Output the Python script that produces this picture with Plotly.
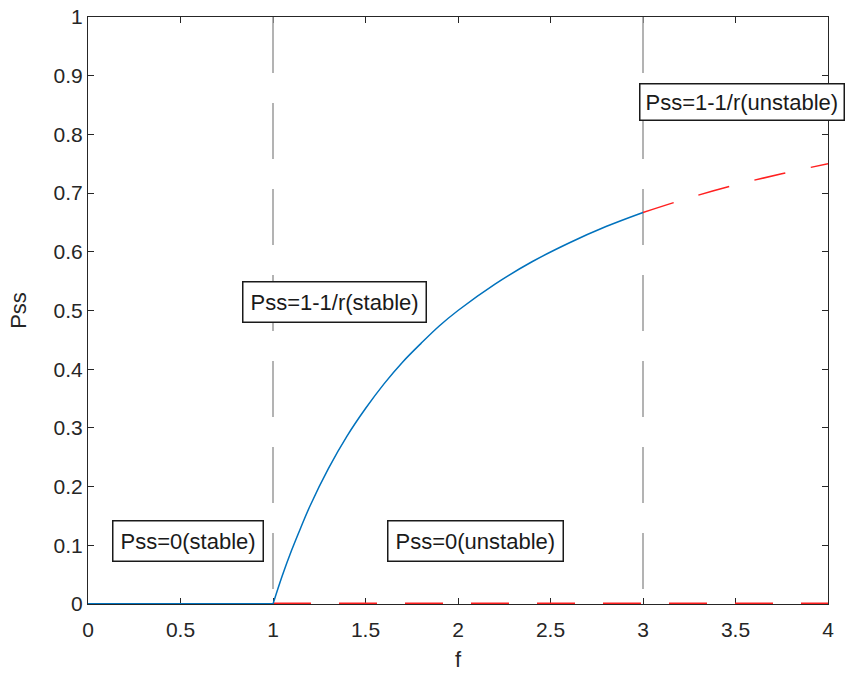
import plotly.graph_objects as go

# Data
zero_stable_f = [0, 1]
zero_stable_p = [0, 0]
zero_unstable_f = [1, 4]
zero_unstable_p = [0, 0]
stable_f = [1.0, 1.05, 1.1, 1.15, 1.2, 1.3, 1.4, 1.5, 1.6, 1.7, 1.8, 1.9, 2.0, 2.2, 2.4, 2.6, 2.8, 3.0]
stable_p = [0.0, 0.048, 0.091, 0.130, 0.167, 0.231, 0.286, 0.333, 0.375, 0.412, 0.444, 0.474, 0.500, 0.545, 0.583, 0.615, 0.643, 0.667]
unstable_f = [3.0, 3.25, 3.5, 3.75, 4.0]
unstable_p = [0.667, 0.692, 0.714, 0.733, 0.750]
boundary_f = [1, 3]
boundary_p = [1, 0]

x_ticks = [0, 0.5, 1, 1.5, 2, 2.5, 3, 3.5, 4]
x_tick_labels = ["0", "0.5", "1", "1.5", "2", "2.5", "3", "3.5", "4"]
y_ticks = [0, 0.1, 0.2, 0.3, 0.4, 0.5, 0.6, 0.7, 0.8, 0.9, 1]
y_tick_labels = ["0", "0.1", "0.2", "0.3", "0.4", "0.5", "0.6", "0.7", "0.8", "0.9", "1"]

labels = ["Pss=0(stable)", "Pss=0(unstable)", "Pss=1-1/r(stable)", "Pss=1-1/r(unstable)"]
label_f = [0.54, 2.095, 1.332, 2.98]
label_p = [0.107, 0.107, 0.514, 0.855]
label_anchor = ["center", "center", "center", "left"]
label_pad = [7, 7, 7, 5]

FONT = "Arial, Liberation Sans, sans-serif"
BLUE = "#0072BD"
RED = "#FF2020"
GRAY = "#9a9a9a"
AX = "#262626"

fig = go.Figure()

for bf in boundary_f:
    fig.add_trace(go.Scatter(x=[bf, bf], y=boundary_p, mode="lines",
                             line=dict(color=GRAY, width=1.5, dash="56px,30px"),
                             showlegend=False, hoverinfo="skip"))

fig.add_trace(go.Scatter(x=zero_stable_f, y=zero_stable_p, mode="lines",
                         line=dict(color=BLUE, width=2),
                         showlegend=False, cliponaxis=False))
fig.add_trace(go.Scatter(x=zero_unstable_f, y=zero_unstable_p, mode="lines",
                         line=dict(color=RED, width=3, dash="38px,28px"),
                         showlegend=False, cliponaxis=False))
fig.add_trace(go.Scatter(x=stable_f, y=stable_p, mode="lines",
                         line=dict(color=BLUE, width=1.5, shape="spline"),
                         showlegend=False))
fig.add_trace(go.Scatter(x=unstable_f, y=unstable_p, mode="lines",
                         line=dict(color=RED, width=1.5, dash="32px,26px", shape="spline"),
                         showlegend=False))

for txt, lf, lp, anc, pad in zip(labels, label_f, label_p, label_anchor, label_pad):
    fig.add_annotation(x=lf, y=lp, xref="x", yref="y", text=txt, showarrow=False,
                       xanchor=anc, yanchor="middle",
                       font=dict(family=FONT, size=22, color="#1a1a1a"),
                       bgcolor="white", bordercolor="#1a1a1a", borderwidth=1.5,
                       borderpad=pad)

axis_common = dict(showline=True, linecolor=AX, linewidth=1.2, mirror="ticks",
                   ticks="inside", ticklen=6, tickcolor=AX, tickwidth=1.2,
                   showgrid=False, zeroline=False, automargin=False, layer="below traces",
                   ticklabeloverflow="allow",
                   tickfont=dict(family=FONT, size=21, color=AX))

fig.update_xaxes(range=[0, 4], tickvals=x_ticks, ticktext=x_tick_labels,
                 ticklabelstandoff=7,
                 title=dict(text="f", font=dict(family=FONT, size=22, color=AX), standoff=11),
                 **axis_common)
fig.update_yaxes(range=[0, 1], tickvals=y_ticks, ticktext=y_tick_labels,
                 title=dict(text="Pss", font=dict(family=FONT, size=22, color=AX), standoff=20),
                 **axis_common)

fig.update_layout(width=846, height=673, plot_bgcolor="white", paper_bgcolor="white",
                  margin=dict(l=88, r=18, t=17, b=69), showlegend=False)

# remove the browser's default 8px page margin so the figure sits at the window origin
fig.write_html("out.html", config={"displayModeBar": False},
               post_script="document.body.style.margin='0';")
